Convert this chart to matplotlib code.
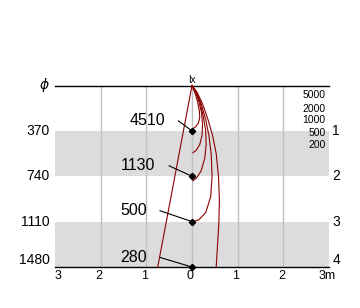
import matplotlib
matplotlib.use('Agg')
import matplotlib.pyplot as plt

plt.rcParams['font.family'] = ['Liberation Sans', 'DejaVu Sans']

# isolux curves (x in m, depth in m)
lux_levels = ['5000', '2000', '1000', '500', '200']
c5000_x = [0, 0.06, 0.12, 0.16, 0.17, 0.14, 0.07, 0.02]
c5000_d = [0, 0.15, 0.35, 0.55, 0.70, 0.83, 0.92, 0.95]
c2000_x = [0, 0.08, 0.15, 0.21, 0.23, 0.22, 0.17, 0.09, 0.02]
c2000_d = [0, 0.15, 0.35, 0.60, 0.85, 1.10, 1.30, 1.43, 1.48]
c1000_x = [0, 0.09, 0.18, 0.25, 0.30, 0.31, 0.28, 0.20, 0.10, 0.02]
c1000_d = [0, 0.15, 0.38, 0.70, 1.00, 1.30, 1.60, 1.88, 2.04, 2.10]
c500_x = [0, 0.10, 0.20, 0.30, 0.37, 0.42, 0.44, 0.41, 0.30, 0.15, 0.03]
c500_d = [0, 0.15, 0.40, 0.75, 1.10, 1.50, 2.00, 2.45, 2.80, 2.96, 3.00]
c200_x = [0, 0.11, 0.23, 0.35, 0.45, 0.53, 0.58, 0.60, 0.59, 0.56, 0.53]
c200_d = [0, 0.15, 0.40, 0.75, 1.10, 1.50, 2.00, 2.50, 3.00, 3.50, 4.00]
edge_x = [0, -0.75]
edge_d = [0, 4]

# centre values
dist = [1, 2, 3, 4]
centre_lux = ['4510', '1130', '500', '280']
left_labels = ['370', '740', '1110', '1480']
right_labels = ['1', '2', '3', '4']
xticks = [-3, -2, -1, 0, 1, 2, 3]
xlabels = ['3', '2', '1', '0', '1', '2', '3m']

fig = plt.figure(figsize=(3.6, 3.08), dpi=100)
ax = fig.add_axes([55/360, 41/308, 274/360, 181.5/308])
ax.set_xlim(-3, 3)
ax.set_ylim(4, 0)
ax.axis('off')

# grey bands and grid
ax.axhspan(1, 2, color='#dcdcdc', lw=0, zorder=0)
ax.axhspan(3, 4, color='#dcdcdc', lw=0, zorder=0)
for gx in [-2, -1, 0, 1, 2]:
    ax.plot([gx, gx], [0, 4], color='#c0c0c0', lw=1.0, zorder=1)
ax.plot([-3, 3], [0, 0], color='black', lw=1.0, zorder=3, clip_on=False)
ax.plot([-3, 3], [4, 4], color='black', lw=1.0, zorder=3, clip_on=False)

red = '#8b0000'
for cx, cd in [(c5000_x, c5000_d), (c2000_x, c2000_d), (c1000_x, c1000_d),
               (c500_x, c500_d), (c200_x, c200_d), (edge_x, edge_d)]:
    ax.plot(cx, cd, color=red, lw=0.8, zorder=4, clip_on=False)

# centre points with leader lines
lab_x = [-0.59, -0.80, -0.99, -0.99]
lab_d = [0.78, 1.77, 2.76, 3.79]
lead_x = [-0.30, -0.50, -0.70, -0.70]
for i, d in enumerate(dist):
    ax.plot([lead_x[i], 0], [lab_d[i], d], color='black', lw=0.8, zorder=5, clip_on=False)
    ax.plot(0, d, marker='D', ms=3.2, color='black', zorder=6, clip_on=False)
    ax.text(lab_x[i], lab_d[i], centre_lux[i], ha='right', va='center', fontsize=11.5)

# axis texts
ax.text(-3.12, 0.0, r'$\phi$', ha='right', va='center', fontsize=10)
for i, d in enumerate(dist):
    yy = d if d < 4 else 3.85
    ax.text(-3.12, yy, left_labels[i], ha='right', va='center', fontsize=10)
    ax.text(3.16, yy, right_labels[i], ha='center', va='center', fontsize=10)
for tx, tl in zip(xticks, xlabels):
    if tl == '3m':
        ax.text(tx - 0.05, 4.2, tl, ha='center', va='center', fontsize=9)
    else:
        ax.text(tx - 0.04 if tx != -3 else tx + 0.07, 4.2, tl, ha='center', va='center', fontsize=9)

ax.text(0, -0.12, 'Ix', ha='center', va='center', fontsize=7)
leg_d = [0.21, 0.51, 0.77, 1.04, 1.31]
for t, d in zip(lux_levels, leg_d):
    ax.text(2.92, d, t, ha='right', va='center', fontsize=7.5)

fig.savefig('out.png', dpi=100)
